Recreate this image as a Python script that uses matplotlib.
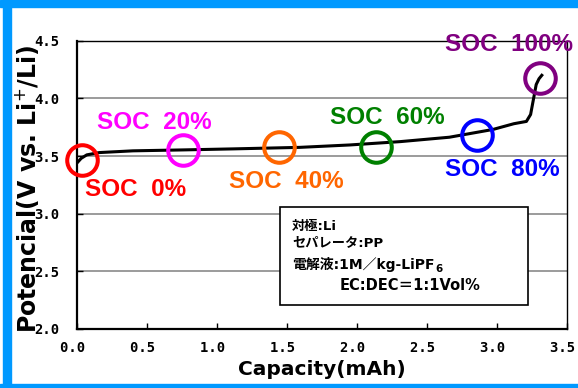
import matplotlib
matplotlib.use('Agg')
import matplotlib.pyplot as plt
from matplotlib.patches import Rectangle

# charge curve
capacity = [0.0, 0.03, 0.07, 0.16, 0.40, 0.76, 1.12, 1.59, 1.95, 2.31,
            2.66, 2.97, 3.12, 3.21, 3.24, 3.26, 3.28, 3.30, 3.32]
potential = [3.44, 3.48, 3.51, 3.53, 3.545, 3.553, 3.562, 3.575, 3.596, 3.625,
             3.663, 3.73, 3.78, 3.80, 3.86, 3.99, 4.12, 4.17, 4.20]

soc_names = ['SOC  0%', 'SOC  20%', 'SOC  40%', 'SOC  60%', 'SOC  80%', 'SOC  100%']
soc_capacity = [0.034, 0.76, 1.44, 2.136, 2.855, 3.307]
soc_potential = [3.466, 3.553, 3.577, 3.582, 3.683, 4.174]

x_ticks = [0.0, 0.5, 1.0, 1.5, 2.0, 2.5, 3.0, 3.5]
y_ticks = [2.0, 2.5, 3.0, 3.5, 4.0, 4.5]

note_lines = ['対極:Li', 'セパレータ:PP', '電解液:1M／kg-LiPF', 'EC:DEC＝1:1Vol%']
note_sub = '6'  # subscript after LiPF

soc_colors = ['#ff0000', '#ff00ff', '#ff6600', '#008000', '#0000ff', '#800080']
# where each label sits (data units)
label_xy = [(0.421, 3.206), (0.55, 3.787), (1.493, 3.276),
            (2.214, 3.83), (3.036, 3.38), (3.086, 4.463)]

fig = plt.figure(figsize=(5.78, 3.88), dpi=100)

# blue frame on top, left, bottom
for r in [(0, 1 - 7 / 388, 1, 7 / 388), (3 / 578, 0, 8 / 578, 1), (0, 0, 1, 4 / 388)]:
    fig.patches.append(Rectangle(r[:2], r[2], r[3], transform=fig.transFigure,
                                 color='#0099ff', zorder=0))

ax = fig.add_axes([77 / 578, 59 / 388, 490 / 578, 288.3 / 388])
ax.set_xlim(0, 3.5)
ax.set_ylim(2.0, 4.5)
ax.set_xticks(x_ticks)
ax.set_yticks(y_ticks)
# trailing space nudges the x labels left of their ticks, as in the original
ax.set_xticklabels(['%.1f ' % v for v in x_ticks],
                   family='DejaVu Sans Mono', weight='bold', fontsize=10)
ax.set_yticklabels(['%.1f' % v for v in y_ticks],
                   family='DejaVu Sans Mono', weight='bold', fontsize=10)
ax.tick_params(axis='x', direction='in', length=4, width=1, pad=9)
ax.tick_params(axis='y', direction='in', length=4, width=1, pad=13)

for v in y_ticks[1:-1]:
    ax.axhline(v, color='#808080', lw=1.1, zorder=1)

for side in ['left', 'bottom']:
    ax.spines[side].set_linewidth(1.6)
for side in ['top', 'right']:
    ax.spines[side].set_linewidth(1.0)

ax.plot(capacity, potential, color='black', lw=2.2, zorder=3)

for c, p, col in zip(soc_capacity, soc_potential, soc_colors):
    ax.plot(c, p, marker='o', ms=22, mfc='none', mec=col, mew=2.9,
            zorder=4, clip_on=False)

for name, (lx, ly), col in zip(soc_names, label_xy, soc_colors):
    ax.text(lx, ly, name, color=col, fontsize=17.5, fontweight='bold',
            family='Liberation Sans', ha='center', va='center',
            zorder=5, clip_on=False)

ax.set_xlabel('Capacity(mAh)', fontsize=14.5, fontweight='bold')
ax.xaxis.set_label_coords(0.5, -0.142)
ax.set_ylabel('Potencial(V vs. Li$^{+}$/Li)', fontsize=17, fontweight='bold')
ax.yaxis.set_label_coords(-0.103, 0.485)
ax.yaxis.label.set_va('center')
ax.xaxis.label.set_va('center')

# condition box
fig.patches.append(Rectangle((280 / 578, (388 - 305) / 388), 248 / 578, 98 / 388,
                             transform=fig.transFigure, facecolor='white',
                             edgecolor='black', lw=1.2, zorder=2))
note_y = [226.5, 243, 264, 286]
note_x = [292, 292, 292, 340]
note_size = [9.5, 9.5, 10, 10.5]
note_font = ['DejaVu Sans', 'Noto Sans CJK JP']
texts = []
for t, x, y, s in zip(note_lines, note_x, note_y, note_size):
    texts.append(fig.text(x / 578, 1 - y / 388, t, fontsize=s, fontweight='bold',
                          family=note_font, ha='left', va='center', zorder=6))
fig.add_artist(plt.Annotation(note_sub, xy=(1, 0.2), xycoords=texts[2],
                              xytext=(0.5, 0), textcoords='offset points',
                              fontsize=7.5, fontweight='bold', family=note_font,
                              ha='left', va='center', zorder=6))

fig.savefig('out.png', dpi=100)
